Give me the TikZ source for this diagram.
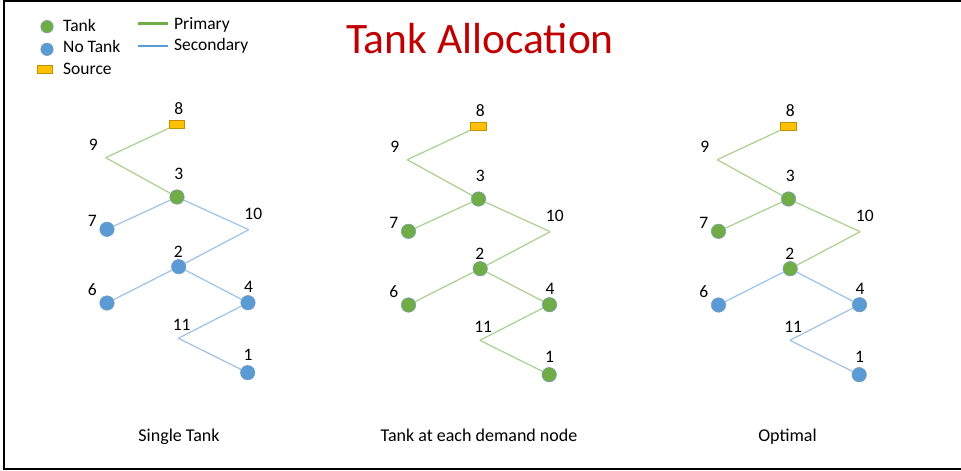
\documentclass[tikz,border=0pt]{standalone}
\usepackage{fontspec}
\setmainfont{Carlito}
\definecolor{tankgreen}{HTML}{70AD47}
\definecolor{tankblue}{HTML}{5B9BD5}
\definecolor{nodeedge}{HTML}{41719C}
\definecolor{srcfill}{HTML}{FFC000}
\definecolor{srcedge}{HTML}{BF9000}
\definecolor{primline}{HTML}{A9D18E}
\definecolor{secline}{HTML}{9DC3E6}
\definecolor{titlered}{HTML}{C00000}
\tikzset{
  tank/.style={circle,fill=tankgreen,draw=nodeedge!70,line width=0.5pt,minimum size=14.5pt,inner sep=0pt},
  notank/.style={circle,fill=tankblue,draw=nodeedge!70,line width=0.5pt,minimum size=14.5pt,inner sep=0pt},
  lgtank/.style={tank,minimum size=12.5pt},
  lgnotank/.style={notank,minimum size=12.5pt},
  src/.style={rectangle,fill=srcfill,draw=srcedge,line width=0.6pt,minimum width=15.5pt,minimum height=7.5pt,inner sep=0pt},
  prim/.style={draw=primline,line width=1.2pt},
  sec/.style={draw=secline,line width=1.2pt},
  lgprim/.style={draw=tankgreen,line width=2.2pt},
  lgsec/.style={draw=tankblue,line width=2.2pt},
  lbl/.style={font=\fontsize{17.5}{19}\selectfont,inner sep=0pt},
  lgtxt/.style={font=\fontsize{17.5}{19}\selectfont,inner sep=0pt,anchor=base west},
  capt/.style={font=\fontsize{18}{20}\selectfont,inner sep=0pt,anchor=base},
}
\newcommand\tanktree[3]{%
  \begin{scope}[shift={(#2,#3)}]
    \coordinate (#1-9) at (105.7,157.7);
    \coordinate (#1-10) at (248.7,229.7);
    \coordinate (#1-11) at (178.3,338.3);
    \node[src] (#1-8) at (176.8,124.5) {};
    \node[n3] (#1-3) at (177,197) {};
    \node[n7] (#1-7) at (107,229.3) {};
    \node[n2] (#1-2) at (178.7,266.7) {};
    \node[n6] (#1-6) at (107,303) {};
    \node[n4] (#1-4) at (248,302.7) {};
    \node[n1] (#1-1) at (247.7,372.7) {};
    \draw[prim] (#1-8) -- (#1-9);
    \draw[prim] (#1-9) -- (#1-3);
    \draw[eA] (#1-3) -- (#1-7);
    \draw[eA] (#1-3) -- (#1-10);
    \draw[eA] (#1-10) -- (#1-2);
    \draw[eB] (#1-2) -- (#1-6);
    \draw[eB] (#1-2) -- (#1-4);
    \draw[eB] (#1-4) -- (#1-11);
    \draw[eB] (#1-11) -- (#1-1);
    \node[lbl] (#1-l8) at (178.8,108.7) {8};
    \node[lbl] (#1-l9) at (93.3,145) {9};
    \node[lbl] (#1-l3) at (178.8,174.3) {3};
    \node[lbl] (#1-l7) at (92.2,221.3) {7};
    \node[lbl] (#1-l10) at (253.3,213.8) {10};
    \node[lbl] (#1-l2) at (178.3,252.2) {2};
    \node[lbl] (#1-l6) at (92.2,289.2) {6};
    \node[lbl] (#1-l4) at (248.5,286.7) {4};
    \node[lbl] (#1-l11) at (181.7,325) {11};
    \node[lbl] (#1-l1) at (248,355.3) {1};
  \end{scope}}
\begin{document}
\begin{tikzpicture}[x=1pt,y=-1pt]
  \useasboundingbox (0,0) rectangle (961,471);
  \fill[white] (0,0) rectangle (961,471);
  \draw[black,line width=2.2pt] (3.7,1.2) -- (965,1.2);
  \draw[black,line width=2.2pt] (3.7,0) -- (3.7,468.8);
  \draw[black,line width=2.4pt] (2.5,468.8) -- (965,468.8);
  % title
  \node[font=\fontsize{43.5}{48}\selectfont,text=titlered,anchor=base,inner sep=0pt] (title) at (480,53) {Tank Allocation};
  % legend
  \node[lgtank] (lg-tank) at (47,26.7) {};
  \node[lgnotank] (lg-notank) at (47,49.3) {};
  \node[src] (lg-src) at (44.7,69.5) {};
  \node[lgtxt] (lg-tanktxt) at (63,31) {Tank};
  \node[lgtxt] (lg-notanktxt) at (63,52.7) {No Tank};
  \node[lgtxt] (lg-srctxt) at (63,74.3) {Source};
  \coordinate (lp1) at (138.3,23.5);
  \coordinate (lp2) at (167.7,23.5);
  \coordinate (ls1) at (138.3,45.7);
  \coordinate (ls2) at (167.7,45.7);
  \draw[lgprim] (lp1) -- (lp2);
  \draw[lgsec] (ls1) -- (ls2);
  \node[lgtxt] (lg-primtxt) at (174,29.3) {Primary};
  \node[lgtxt] (lg-sectxt) at (174,50.9) {Secondary};
  % tree 1: single tank
  \tikzset{n3/.style=tank,n7/.style=notank,n2/.style=notank,n6/.style=notank,n4/.style=notank,n1/.style=notank,eA/.style=sec,eB/.style=sec}
  \tanktree{a}{0}{0}
  % tree 2: tank at each demand node
  \tikzset{n3/.style=tank,n7/.style=tank,n2/.style=tank,n6/.style=tank,n4/.style=tank,n1/.style=tank,eA/.style=prim,eB/.style=prim}
  \tanktree{b}{301.5}{2}
  % tree 3: optimal
  \tikzset{n3/.style=tank,n7/.style=tank,n2/.style=tank,n6/.style=notank,n4/.style=notank,n1/.style=notank,eA/.style=prim,eB/.style=sec}
  \tanktree{c}{611.5}{2}
  % captions
  \node[capt] (cap1) at (179,441) {Single Tank};
  \node[capt] (cap2) at (479,441) {Tank at each demand node};
  \node[capt] (cap3) at (787.5,441) {Optimal};
\end{tikzpicture}
\end{document}
